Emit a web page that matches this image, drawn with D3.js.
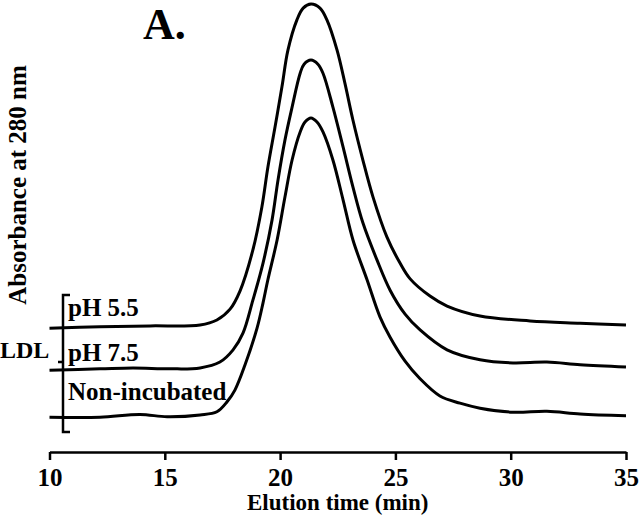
<!DOCTYPE html>
<html>
<head>
<meta charset="utf-8">
<script src="https://cdn.jsdelivr.net/npm/d3@7"></script>
<style>
  body { margin: 0; background: #fff; }
  text { font-family: "Liberation Serif", "Times New Roman", serif; font-weight: bold; fill: #000; }
</style>
</head>
<body>
<div id="chart"></div>
<script>
const ancho = 640
const alto = 518

// elution time (min) and absorbance (a.u., traces offset as in the figure)
const ph55Time = [10.0, 12.19, 14.36, 16.53, 17.26, 17.83, 18.26, 18.82, 19.21, 19.47, 19.78, 20.08, 20.34, 20.73, 21.0, 21.34, 21.73, 22.03, 22.47, 22.81, 23.16, 23.59, 24.03, 24.63, 25.2, 25.64, 26.5, 27.24, 28.67, 30.84, 33.01, 35.0]
const ph55Abs = [27.4, 27.7, 27.9, 28.1, 29.2, 31.6, 35.6, 44.7, 54.2, 63.0, 71.9, 80.8, 88.9, 95.6, 98.2, 99.1, 98.2, 95.6, 88.9, 81.6, 73.4, 64.6, 56.4, 47.6, 41.8, 38.3, 34.5, 32.3, 30.1, 29.0, 28.5, 28.1]

const ph75Time = [10.0, 12.19, 13.62, 15.23, 16.53, 17.39, 17.96, 18.39, 18.82, 19.26, 19.65, 19.91, 20.21, 20.52, 20.87, 21.04, 21.34, 21.64, 21.86, 22.29, 22.73, 23.16, 23.59, 24.2, 24.77, 25.42, 26.07, 27.24, 28.67, 30.1, 31.57, 33.01, 35.0]
const ph75Abs = [18.1, 18.4, 18.6, 18.4, 18.6, 19.9, 22.6, 26.3, 33.6, 41.8, 51.3, 60.2, 69.0, 76.3, 83.8, 85.8, 86.7, 85.8, 83.8, 76.3, 67.5, 58.6, 50.7, 42.5, 35.8, 30.5, 27.0, 22.6, 20.4, 19.7, 19.9, 19.3, 18.8]

const nonIncTime = [10.0, 12.19, 13.92, 15.1, 16.53, 17.26, 17.7, 18.04, 18.48, 19.0, 19.26, 19.47, 19.87, 20.21, 20.52, 20.87, 21.08, 21.34, 21.6, 21.86, 22.29, 22.73, 23.16, 23.77, 24.33, 24.77, 25.42, 26.07, 26.93, 27.8, 28.67, 30.1, 31.57, 33.01, 35.0]
const nonIncAbs = [7.7, 7.7, 8.3, 7.8, 8.2, 8.9, 11.1, 13.7, 19.3, 27.4, 33.0, 38.1, 46.9, 56.4, 64.6, 70.8, 73.0, 73.9, 73.0, 70.8, 64.6, 55.8, 46.9, 38.1, 29.9, 25.4, 20.1, 16.2, 12.4, 10.8, 9.7, 8.8, 9.0, 8.4, 8.0]

const etiquetas = ["pH 5.5", "pH 7.5", "Non-incubated"]
const xTicks = [10, 15, 20, 25, 30, 35]

const series = [
  { name: etiquetas[0], t: ph55Time, a: ph55Abs },
  { name: etiquetas[1], t: ph75Time, a: ph75Abs },
  { name: etiquetas[2], t: nonIncTime, a: nonIncAbs }
]

const svg = d3.select("#chart").append("svg")
    .attr("width", ancho)
    .attr("height", alto)

// escalas
const x = d3.scaleLinear().domain([10, 35]).range([49.5, 626])
const y = d3.scaleLinear().domain([0, 100]).range([452, 0])

// eje x
const ejeX = d3.axisBottom(x).tickValues(xTicks).tickSize(8).tickSizeOuter(0).tickPadding(8)
const grupoX = svg.append("g")
    .attr("transform", `translate(0,${y(0)})`)
    .call(ejeX)
grupoX.select(".domain").attr("stroke", "#000").attr("stroke-width", 2.5)
grupoX.selectAll(".tick line").attr("stroke", "#000").attr("stroke-width", 2.5)
grupoX.selectAll(".tick text")
    .style("font-family", '"Liberation Serif", "Times New Roman", serif')
    .style("font-weight", "bold")
    .style("font-size", "25px")
    .attr("fill", "#000")

svg.append("text")
    .attr("x", (x(10) + x(35)) / 2)
    .attr("y", 510)
    .attr("text-anchor", "middle")
    .style("font-size", "23px")
    .text("Elution time (min)")

svg.append("text")
    .attr("transform", "translate(26,185) rotate(-90)")
    .attr("text-anchor", "middle")
    .style("font-size", "25px")
    .text("Absorbance at 280 nm")

svg.append("text")
    .attr("x", 143)
    .attr("y", 39)
    .style("font-size", "44px")
    .text("A.")

// curvas
const linea = d3.line()
    .x(d => x(d[0]))
    .y(d => y(d[1]))
    .curve(d3.curveCatmullRom.alpha(0.5))

svg.append("g").selectAll("path")
  .data(series)
  .join("path")
    .attr("d", s => linea(s.t.map((t, i) => [t, s.a[i]])))
    .attr("fill", "none")
    .attr("stroke", "#000")
    .attr("stroke-width", 3)

// corchete LDL
const bx = 63
const corchete = d3.path()
corchete.moveTo(bx + 7, 295)
corchete.lineTo(bx, 295)
corchete.lineTo(bx, 432)
corchete.lineTo(bx + 7, 432)
corchete.moveTo(bx - 5, 362)
corchete.lineTo(bx, 362)
svg.append("path")
    .attr("d", corchete.toString())
    .attr("fill", "none")
    .attr("stroke", "#000")
    .attr("stroke-width", 2.5)

svg.append("text")
    .attr("x", 0)
    .attr("y", 358)
    .style("font-size", "24px")
    .text("LDL")

const labelY = [316, 361, 400]
svg.selectAll(".etiqueta")
  .data(etiquetas)
  .join("text")
    .attr("class", "etiqueta")
    .attr("x", 68)
    .attr("y", (d, i) => labelY[i])
    .style("font-size", "25px")
    .text(d => d)
</script>
</body>
</html>
